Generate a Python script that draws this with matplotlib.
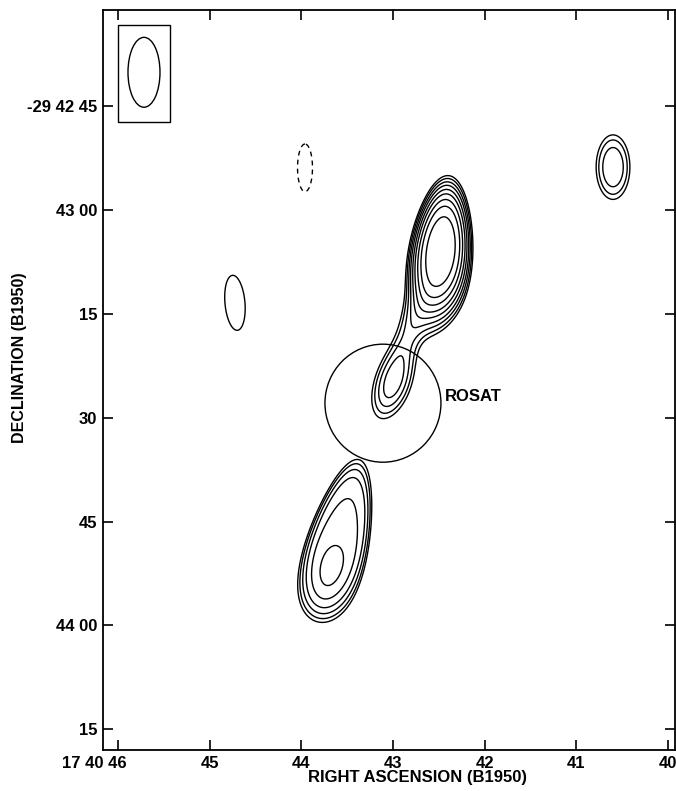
import numpy as np
import matplotlib
matplotlib.use("Agg")
import matplotlib.pyplot as plt
import matplotlib.transforms as mtransforms
from matplotlib.patches import Ellipse, Rectangle

plt.rcParams['font.family'] = ['Liberation Sans', 'DejaVu Sans']
plt.rcParams['font.weight'] = 'bold'

# Source components: RA (s past 17 40), Dec (arcsec south of -29 42 00),
# sigma along major / minor axis (arcsec), PA (deg, N through E), peak,
# profile index, taper of the minor axis towards the northern end
comp_ra = [42.477, 42.575, 42.782, 43.000, 43.595, 43.677, 40.601, 44.724, 43.960]
comp_dec = [65.6, 73.5, 76.2, 85.0, 107.7, 111.7, 53.8, 73.4, 53.9]
comp_major = [5.7, 3.2, 6.5, 3.4, 9.7, 3.2, 3.5, 6.6, 5.7]
comp_minor = [2.44, 2.0, 1.3, 1.7, 3.55, 1.6, 1.8, 2.35, 1.76]
comp_pa = [-6, -15, -20, -18, -14, -15, 0, 5, 0]
comp_peak = [21.0, 2.5, 1.8, 3.0, 4.2, 2.4, 2.7, 1.2, -1.2]
comp_index = [1.45, 1.0, 1.0, 1.0, 2.5, 1.0, 1.2, 1.0, 1.0]
comp_taper = [0.1, 0, 0, 0, 0.2, 0, 0, 0, 0]

# contour levels, steps of sqrt(2)
levels = [-1, 1, 1.4, 2, 2.8, 4, 5.6, 8, 11.2, 16, 22.4]

# restoring beam and ROSAT error circle
beam_ra, beam_dec, beam_w, beam_h = 45.716, 40.1, 0.349, 10.1
rosat_ra, rosat_dec, rosat_w, rosat_h = 43.110, 87.9, 1.265, 17.05

ra_ticks = [46, 45, 44, 43, 42, 41, 40]
ra_labels = ['17 40 46', '45', '44', '43', '42', '41', '40']
dec_ticks = [45, 60, 75, 90, 105, 120, 135]
dec_labels = ['-29 42 45', '43 00', '15', '30', '45', '44 00', '15']

cosdec = np.cos(np.radians(29.7))
ra = np.linspace(39.8, 46.3, 900)
dec = np.linspace(28, 141, 1000)
RA, DEC = np.meshgrid(ra, dec)

flux = np.zeros_like(RA)
for r0, d0, smaj, smin, pa, peak, p, tap in zip(comp_ra, comp_dec, comp_major,
                                                comp_minor, comp_pa, comp_peak,
                                                comp_index, comp_taper):
    east = (RA - r0) * 15 * cosdec
    north = -(DEC - d0)
    t = np.radians(pa)
    a = east * np.sin(t) + north * np.cos(t)
    b = east * np.cos(t) - north * np.sin(t)
    b = b * np.clip(1 + tap * a / smaj, 0.3, None)
    q = (a / smaj) ** 2 + (b / smin) ** 2
    flux += peak * np.exp(-0.5 * q ** p)

fig = plt.figure(figsize=(6.76, 7.91), dpi=100)
ax = fig.add_axes([103 / 676, 41 / 791, 572 / 676, 740 / 791])

styles = [(0, (3.5, 3)) if lv < 0 else 'solid' for lv in levels]
ax.contour(RA, DEC, flux, levels=levels, colors='k', linewidths=1.0,
           linestyles=styles)

ax.add_patch(Rectangle((45.434, 33.3), 0.566, 14.0, fill=False, lw=1.0, ec='k'))
ax.add_patch(Ellipse((beam_ra, beam_dec), beam_w, beam_h, fill=False, lw=1.0, ec='k'))
ax.add_patch(Ellipse((rosat_ra, rosat_dec), rosat_w, rosat_h, fill=False, lw=1.0, ec='k'))
ax.text(42.434, 87.0, 'ROSAT', fontsize=12, fontweight='bold', ha='left', va='center')

ax.set_xlim(46.163, 39.925)
ax.set_ylim(138.0, 31.1)

ax.set_xticks(ra_ticks)
ax.set_xticklabels(ra_labels)
ax.set_yticks(dec_ticks)
ax.set_yticklabels(dec_labels)
ax.tick_params(direction='in', length=7, width=1.2, top=True, right=True,
               labelsize=12, pad=4)
for s in ax.spines.values():
    s.set_linewidth(1.3)

# hours/minutes prefix sits to the left of the first RA tick
first = ax.get_xticklabels()[0]
first.set_horizontalalignment('right')
first.set_transform(first.get_transform() +
                    mtransforms.ScaledTranslation(9 / 100, 0, fig.dpi_scale_trans))

ax.set_xlabel('RIGHT ASCENSION (B1950)', fontsize=12, fontweight='bold')
ax.xaxis.set_label_coords(0.549, -0.027)
ax.set_ylabel('DECLINATION (B1950)', fontsize=11.5, fontweight='bold',
              family=['Liberation Sans Narrow', 'Liberation Sans'])
ax.yaxis.set_label_coords(-0.133, 0.53)

fig.savefig('out.png', dpi=100)
